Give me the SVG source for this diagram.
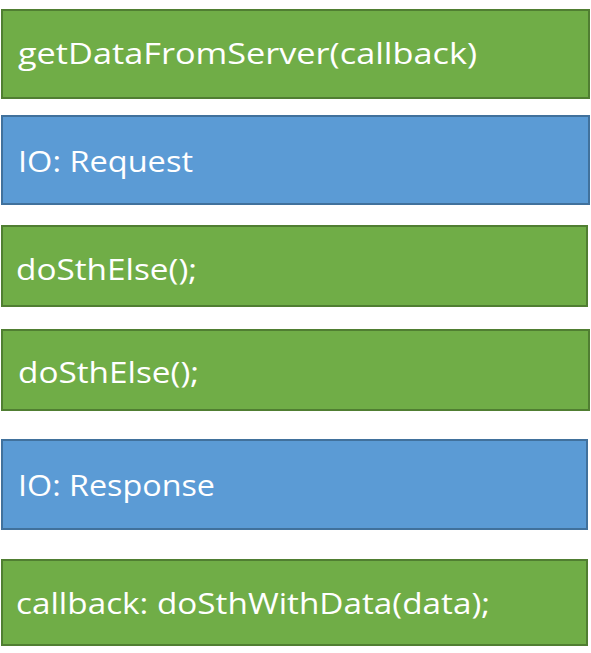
<svg xmlns="http://www.w3.org/2000/svg" width="591" height="653" viewBox="0 0 591 653">
<style>
.g{fill:#70AD47;stroke:#507E32;stroke-width:2}
.b{fill:#5B9BD5;stroke:#41719C;stroke-width:2}
.t{fill:#fff;font-family:"Open Sans","Noto Sans","DejaVu Sans",sans-serif;font-size:30px}
</style>
<rect width="591" height="653" fill="#fff"/>
<g id="n1"><rect class="g" x="2" y="10" width="587" height="88"/><text class="t" x="18" y="64" textLength="459" lengthAdjust="spacingAndGlyphs">getDataFromServer(callback)</text></g>
<g id="n2"><rect class="b" x="2" y="116" width="587" height="88"/><text class="t" x="18" y="172" textLength="175" lengthAdjust="spacingAndGlyphs">IO: Request</text></g>
<g id="n3"><rect class="g" x="2" y="226" width="585" height="80"/><text class="t" x="16" y="280" textLength="181" lengthAdjust="spacingAndGlyphs">doSthElse();</text></g>
<g id="n4"><rect class="g" x="2" y="330" width="587" height="80"/><text class="t" x="18" y="383" textLength="181" lengthAdjust="spacingAndGlyphs">doSthElse();</text></g>
<g id="n5"><rect class="b" x="2" y="440" width="585" height="89"/><text class="t" x="18" y="496" textLength="197" lengthAdjust="spacingAndGlyphs">IO: Response</text></g>
<g id="n6"><rect class="g" x="2" y="560" width="585" height="85"/><text class="t" x="16" y="614" textLength="474" lengthAdjust="spacingAndGlyphs">callback: doSthWithData(data);</text></g>
<g id="connectors"></g>
</svg>
